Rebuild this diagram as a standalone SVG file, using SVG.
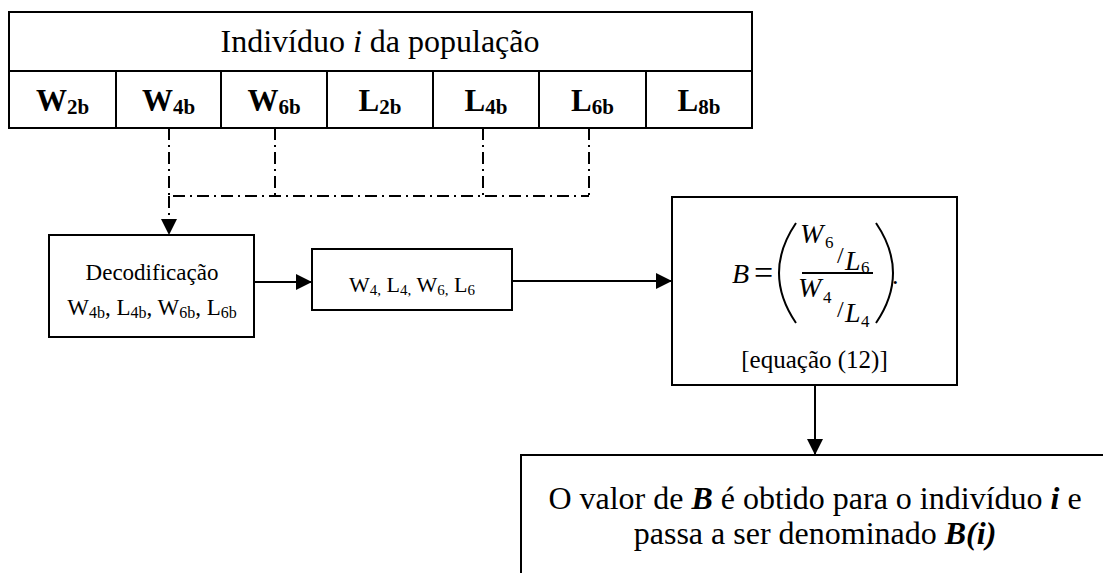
<svg xmlns="http://www.w3.org/2000/svg" width="1103" height="573" viewBox="0 0 1103 573" font-family="'Liberation Serif', 'Times New Roman', serif">
<style>
  .box { fill: #fff; stroke: #000; stroke-width: 2; }
  .ln { fill: none; stroke: #000; stroke-width: 2; }
  .dd { fill: none; stroke: #000; stroke-width: 2; stroke-dasharray: 12 5 2 5; }
  .t { font-family: "Liberation Serif", "Times New Roman", serif; fill: #000; }
  .cell { font-size: 31px; font-weight: bold; text-anchor: middle; }
  .m { font-size: 23px; text-anchor: middle; }
  .big { font-size: 32px; text-anchor: middle; }
  .mi { font-style: italic; font-size: 28px; }
  .ms { font-size: 17px; }
</style>
<defs>
  <marker id="ah" viewBox="0 0 16 16" refX="16" refY="8" markerWidth="16" markerHeight="16" markerUnits="userSpaceOnUse" orient="auto">
    <path d="M0,0 L16,8 L0,16 Z" fill="#000"/>
  </marker>
</defs>
<rect width="1103" height="573" fill="#fff"/>

<g id="chromosome">
  <rect class="box" x="9" y="12" width="743" height="116"/>
  <line class="ln" x1="9" y1="71" x2="752" y2="71"/>
  <line class="ln" x1="116" y1="71" x2="116" y2="128"/>
  <line class="ln" x1="221" y1="71" x2="221" y2="128"/>
  <line class="ln" x1="327" y1="71" x2="327" y2="128"/>
  <line class="ln" x1="433" y1="71" x2="433" y2="128"/>
  <line class="ln" x1="539" y1="71" x2="539" y2="128"/>
  <line class="ln" x1="646" y1="71" x2="646" y2="128"/>
  <text class="t big" x="380" y="52">Indivíduo <tspan font-style="italic">i</tspan> da população</text>
  <text class="t cell" x="62.5" y="111">W<tspan font-size="21" dy="3">2b</tspan></text>
  <text class="t cell" x="168.5" y="111">W<tspan font-size="21" dy="3">4b</tspan></text>
  <text class="t cell" x="274" y="111">W<tspan font-size="21" dy="3">6b</tspan></text>
  <text class="t cell" x="380" y="111">L<tspan font-size="21" dy="3">2b</tspan></text>
  <text class="t cell" x="486" y="111">L<tspan font-size="21" dy="3">4b</tspan></text>
  <text class="t cell" x="592.5" y="111">L<tspan font-size="21" dy="3">6b</tspan></text>
  <text class="t cell" x="699" y="111">L<tspan font-size="21" dy="3">8b</tspan></text>
</g>

<g id="decodificacao">
  <rect class="box" x="49" y="235" width="205" height="102"/>
  <text class="t m" x="152" y="280">Decodificação</text>
  <text class="t m" x="152" y="315">W<tspan font-size="16" dy="3">4b</tspan><tspan dy="-3">, L</tspan><tspan font-size="16" dy="3">4b</tspan><tspan dy="-3">, W</tspan><tspan font-size="16" dy="3">6b</tspan><tspan dy="-3">, L</tspan><tspan font-size="16" dy="3">6b</tspan></text>
</g>

<g id="valores">
  <rect class="box" x="312" y="249" width="200" height="61"/>
  <text class="t" x="412" y="292" font-size="22" text-anchor="middle">W<tspan font-size="15" dy="3">4,</tspan><tspan dy="-3"> L</tspan><tspan font-size="15" dy="3">4,</tspan><tspan dy="-3"> W</tspan><tspan font-size="15" dy="3">6,</tspan><tspan dy="-3"> L</tspan><tspan font-size="15" dy="3">6</tspan></text>
</g>

<g id="equacao">
  <rect class="box" x="672" y="197" width="285" height="188"/>
  <text class="t mi" x="732" y="283">B</text>
  <text class="t" x="754" y="284" font-size="34">=</text>
  <path class="ln" d="M796,223 Q762,273 796,323" stroke-width="1.8"/>
  <path class="ln" d="M876,223 Q910,273 876,323" stroke-width="1.8"/>
  <line class="ln" x1="802" y1="273" x2="873" y2="273"/>
  <text class="t mi" x="800" y="243">W</text>
  <text class="t ms" x="825" y="248">6</text>
  <text class="t" font-size="24" x="837" y="263">/</text>
  <text class="t mi" x="845" y="270">L</text>
  <text class="t ms" x="861" y="273">6</text>
  <text class="t mi" x="798" y="297">W</text>
  <text class="t ms" x="823" y="303">4</text>
  <text class="t" font-size="24" x="837" y="317">/</text>
  <text class="t mi" x="845" y="322">L</text>
  <text class="t ms" x="861" y="327">4</text>
  <text class="t" font-size="26" x="892" y="284">.</text>
  <text class="t" x="814.5" y="368" font-size="25" text-anchor="middle">[equação (12)]</text>
</g>

<g id="resultado">
  <rect class="box" x="521" y="455" width="600" height="140"/>
  <text class="t big" x="815" y="509">O valor de <tspan font-weight="bold" font-style="italic">B</tspan> é obtido para o indivíduo <tspan font-weight="bold" font-style="italic">i</tspan> e</text>
  <text class="t big" x="815" y="544">passa a ser denominado <tspan font-weight="bold" font-style="italic">B(i)</tspan></text>
</g>

<g id="connectors">
  <polyline class="dd" points="169,128 169,196 589,196"/>
  <line class="dd" x1="275" y1="128" x2="275" y2="196"/>
  <line class="dd" x1="483" y1="128" x2="483" y2="196"/>
  <line class="dd" x1="589" y1="128" x2="589" y2="196"/>
  <line class="dd" x1="169" y1="196" x2="169" y2="235" marker-end="url(#ah)"/>
  <line class="ln" x1="254" y1="282" x2="312" y2="282" marker-end="url(#ah)"/>
  <line class="ln" x1="512" y1="281" x2="672" y2="281" marker-end="url(#ah)"/>
  <line class="ln" x1="815" y1="385" x2="815" y2="455" marker-end="url(#ah)"/>
</g>
</svg>
